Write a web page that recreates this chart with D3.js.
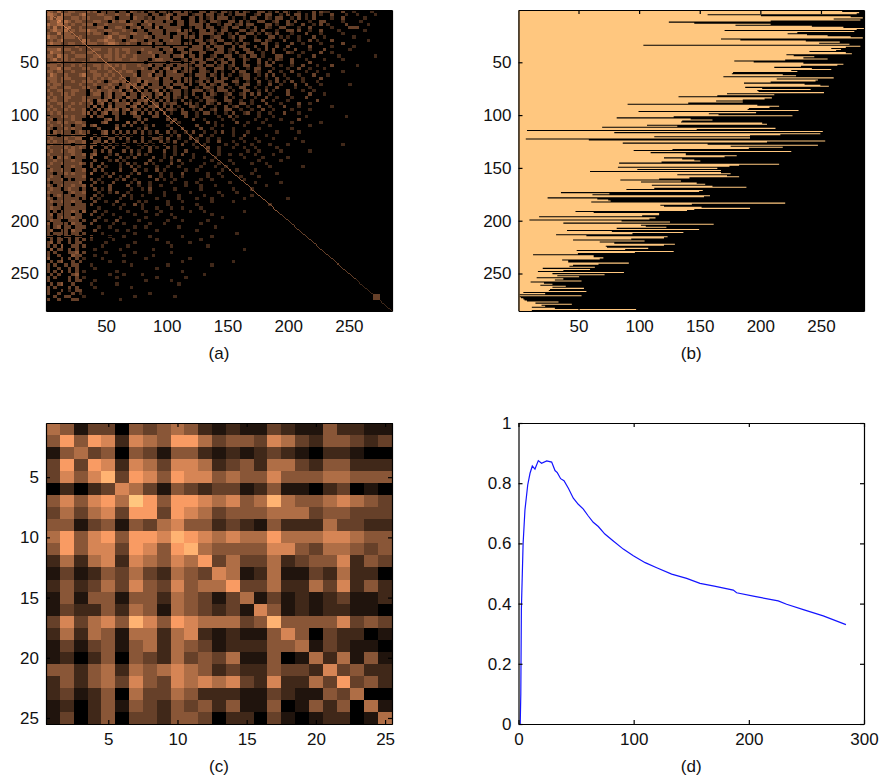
<!DOCTYPE html>
<html>
<head>
<meta charset="utf-8">
<script src="https://cdn.jsdelivr.net/npm/d3@7"></script>
<style>
  body { margin: 0; background: #fff; }
  text { font-family: "Liberation Sans", Arial, sans-serif; fill: #111; }
  .tick text { font-size: 17px; }
  .caption { font-size: 17px; text-anchor: middle; }
  .domain, .tick line { stroke: #000; stroke-width: 1.2; }
</style>
</head>
<body>
<div id="chart"></div>
<script>
//Panel (a) estimated brightness, one digit per block of 3 x 3 units
var coarseCells = [
"443533443334340333303304323033033203303200330320332030320033020303300200030322000300200002000",
"554354433453334433343340333303302430333023303302302033300230330020303302030200300020020000200",
"453553344344333344303330433230333403300330302303330200203300320330020302030000200300000200000",
"344645434433344330434403330433330330330330320332003303020033002300303000200330000200002000000",
"544554343344403343333344303340333300330333303002033023033000330200320030020302000030000020000",
"435344533433334403344303340330403333300203303300230330020300320033000200300000200003330000000",
"345445343445443344333433033033330333403300330320330003302303000200330300200300002000000200000",
"433534433334344303443334433303330300333020333302302030033020320300020003000200000200000000000",
"544344443433333345334430333430333303303330300233002303300200033020200200030020000000200000000",
"343453333354334454433034433033303343300203302303300203000330320003000200302000300000000020000",
"454433443344443345543343303340330333303300330320033020320003300200030020000200000300000000000",
"333333334333333333333333333330333303333033303033300303300300300300300000300000200000200000000",
"444534433433344334343443334333303340330333302303302300330020303002003000200030000002000000000",
"354433343334433334343343303343330330033300330033302030033002003000320020000300200000000000000",
"443544334443344344343433433334033303340330300230033002303302000330000200030000002000000000200",
"345344343333443334344334433303443330023033303302303300320030020320030002000020000200000000000",
"333433333343333333333333333033333033303330330030330300300030303000030000300000000000000000000",
"444343343433344344343433343340330330333203303302302300330020330020020030002000300000020000000",
"344534433344334343433433334303303403303320330033302030020330002000200300200020000000000000000",
"443443343333443334334344303334030334023300332030200303300320030020030002002000000200000000000",
"354334333453344343433333403340330333330203330320302002330020303002000200030002000000000000000",
"444344433334343434334303343333403303303300332030330020330200200300200020000300000000000000000",
"344343343344434303443403340433303330303302303033300330020030020302030020002000000000000000000",
"434433333433343334330343403403303303330300330320330020330020030020003003000200000002000000000",
"344334433344330343403340334033330340033002033203302003300200200300002000200000000000000000000",
"433443344330434334334034030303403023302033302303330200330020302000300020020000000000000000000",
"343344343330344034033403303330340303302030030320023002303030020000300000300020000000000000000",
"434334433343333034033043304030303303203002033200030200300200300200020003000000000000000000000",
"344334333344304340340303033403030302030200203320033002002003002000200000003000000000000000000",
"433443343433403403033340340303303233003302003203002003302000300020000300200000000000000000000",
"343343433333040304033303403033403030200332030020030230020030020003000200000000200000000000000",
"434334343340304034340340330303030332030020300230033002002003002000020000200000000000000000000",
"343433333344030340330303403030303020033002033020020300230020020003000200000000000000000000000",
"433344343330403300030000330003300200003002000002003020000020002000000002000000000020000000000",
"340333343300000034030000030300000303000030020000200200000200200020000300000000000000000000000",
"433434334430000340000040303000000030200000003020000030020002000000020000000200000000000000000",
"343343303340340000030303000203000200000003000020200000200000020000000000200000000000000000000",
"430334343300003000040000020300000030030000300200000200000020000000020000000000000000000000000",
"304343303433000340303030303020300302002030020020300200020000000200000200000000000000000000000",
"433033343340030340030302003020030020300200300200000200300000200000000000000000000000000000000",
"343334334400403003303030003003320300200302002002000002000200002000002000000000000000000000000",
"434333443340033040300020303020030203002003002003000200200020000000000020000000000000000000000",
"343343303340340303020300020302003002030020020000020020002000020000200000000000000200000000000",
"433334343430400030300020002030200302000002003002000200200200000200000000000000000000000000000",
"343343443300030303000303020030003002003000002002000000020020000020000000200000000000000000000",
"433333343340340002030002030200002002030020000002002002000200002000000000000000000000000000000",
"340434303330400030003020300003002030000020020020000000200002000000200000000000000000000000000",
"334333343300030002030200000030020020300200000200002000000020000020000000000000000000000000000",
"343343333430300300002030200302000030020000020002000200002000200000000000000000000000000000000",
"433303343300303020002003020000200200200000200020020000000000020000000020000000000000000000000",
"343343303340030300003000300200302000002002000000200020000200000000000000000000000000000000000",
"330334343330400020300002030000020020030000002002000000002000000200000000000000000000000000000",
"343303333340000203002030000030020020020000002000200002000020000000000000000000000000000000000",
"433340303330302000020300200000302002000000200200000000200000000000000000000000000000000000000",
"303333333400030200300002030020000020002002000000002000000200000020000000000000000000000000000",
"430343343340300003000030020020020000002000200020000000000000200000000000000000000000000000000",
"343303433030030203000002002030000002000000200000000200002000000000000000000000000000000000000",
"433330343340002002030020000020002000000200000002000020000000000000000000000000000000000000000",
"303433303330030200000302002000002000200000020000200000002000000000000000000000000000000000000",
"430333333030302000002002000000200000200002000200000000200000000000200000000000000000000000000",
"343343343300030020030000020200000200020000000200000200000000000000000000000000000000000000000",
"330333303330300000200200302000000200000002000000000000000000020000000000000000000000000000000",
"343303333330002000002000002000200020020000200000000000000000000000000000000000000000000000000",
"303033343040030020000020000200020000000200020000000000200000000000000000000000000000000000000",
"340333303300300200200000200000200020000000000200000000000000000000000000000000000000000000000",
"330343343300002000002000000200000002000000000000200000000000000000000000000000000000000000000",
"343300333030030020030000020000000200020000002000000000000000000000000000000000000000000000000",
"403333043300300000200200000020002000000000200000000000000000000000000000000000000000000000000",
"303403303330002002000000200200000000200000000020000000000000000000000000000000000000000000000",
"340033043300030000020020000000200000000002000000000000000000000000000000000000000000000000000",
"303333033030000200000000200000000000000000000000000020000000000000000000000000000000000000000",
"330303303300300002000200000020000000020000000200000000000000000000000000000000000000000000000",
"030330303030200000200000000000200000000000200000000000000000000000000000000000000000000000000",
"340300303300000020000000200000000200000200000000000000000000000000000000000000000000000000000",
"303040033030000200000020000000000020000000002000000000000000000000000000000000000000000000000",
"040330303000020000002000000002000000000000000000000000200000000000000000000000000000000000000",
"303000334030000020000000200000000020000000000000000000000000000000000000000000000000000000000",
"300300043300020000000200000002000000000000000000000000000000000000000000000000000000000000000",
"400030303020000200000000000200000000000200000000000000000000000000000000000000000000000000000",
"030340030300000002000200000000000000020000000000000200000000000000000000000000000000000000000",
"303003033000200000000002000000000200000000000200000000000000000000000000000000000000000000000",
"300300303000020000000000000000200000000000000000000000000000000000000000000000000000000000000",
"303040303020000000020000000000000000020000000000000000000000000000000000000000000000000000000",
"030300034000000002000200002000000000000000020000000000000000000000000000000000000000000000000",
"303000303020000000020000000000200000002000000000000000000000000000000000000000000000000000000",
"300000303300020000000000000200000020000000000000000000000000000000000000000000000000000000000",
"030340030000200000020000000000000000200000000000000000000000000000000000000000000000000000000",
"303000303000020000000002000000000000000000000000000000000000000000000000000000000000000000000",
"300030203300000000000000000000000000000000000000000000000000000000000000000000000000000000000",
"300300030200000200000000000020000000000000000000000000000000000000000000000000000000000000000",
"003003300020000000000000200000000002000000000000000000000000000000000000000000000000000000000",
"300300033000000000002000000000000000000000000000000000000000000000000000000000000000000000000"
];

//Panel (a) main diagonal, one digit per block of 3 units
var diagonalCells = "55555655555555555555555555455555555545445454444444444444444444443333333333333333333332222222222";

//Panel (a) darker square near the end of the diagonal
var blockRange = [270, 275];
var blockLevel = 3;

//Panel (a) thin black lines, row or column number and where they stop
var darkRowAt = [34, 50, 119, 128, 215];
var darkRowEnd = [120, 120, 100, 110, 60];
var darkColAt = [15, 34, 118];
var darkColEnd = [285, 220, 200];

//Panel (b) last bright column of each row, top to bottom
var rowEnds = [
  280, 267, 281, 279, 156, 200, 274, 284, 260, 282, 208, 124, 145, 208, 179, 242, 268, 285, 279, 170,
  277, 230, 222, 238, 255, 274, 284, 167, 183, 237, 265, 248, 273, 103, 282, 270, 258, 266, 262, 240,
  270, 275, 221, 227, 244, 235, 255, 220, 178, 194, 235, 268, 263, 233, 211, 242, 258, 225, 230, 177,
  176, 218, 229, 169, 260, 213, 247, 245, 208, 186, 236, 249, 256, 187, 201, 241, 197, 198, 252, 172,
  211, 164, 132, 209, 203, 185, 163, 185, 140, 90, 197, 215, 207, 190, 189, 231, 99, 196, 157, 165,
  226, 128, 81, 142, 160, 135, 134, 201, 205, 106, 131, 69, 212, 147, 7, 251, 79, 249, 216, 191,
  112, 191, 6, 58, 253, 205, 86, 156, 247, 175, 218, 190, 127, 95, 225, 109, 138, 138, 180, 170,
  120, 135, 145,
  150, 118, 83, 215, 182, 174, 82, 164, 98, 167, 59, 167, 175, 131, 172, 182, 141, 116, 84, 134,
  101, 147, 154, 110, 160, 188, 112, 89, 152, 149, 35, 75, 61, 158, 153, 24, 65, 74, 76, 60,
  220, 143, 117, 120, 151, 191, 145, 139, 47, 62, 116, 116, 102, 17, 113, 108, 9, 85, 125, 37,
  161, 101, 105, 122, 81, 149, 40, 77, 136, 94, 31, 56, 123, 120, 93, 45, 104, 67, 79, 129,
  120, 72, 73, 107, 88, 48, 128, 96, 49, 12, 62, 62, 70, 67, 36, 41, 41, 91, 66, 45,
  42, 63, 20, 59, 37, 16, 87, 28, 71, 32, 50, 15, 37, 30, 52, 10, 21, 28, 18, 39,
  28, 54, 26, 25, 56, 4, 22, 1, 52, 1, 2, 4, 5, 7, 33, 14, 44, 19, 22, 11,
  30, 97, 11
];

//Panel (c) matrix levels
var zoomCells = [
  [5,4,1,3,3,0,4,3,4,5,4,2,1,2,1,1,3,2,1,1,4,2,2,1,1],
  [4,7,4,7,6,2,6,5,4,7,7,5,3,4,4,3,6,5,3,2,4,4,3,2,3],
  [1,4,5,3,4,0,4,3,1,4,4,2,1,2,1,2,3,2,1,0,2,2,1,0,0],
  [3,7,3,7,6,2,6,5,3,6,6,5,2,3,4,2,5,5,3,2,4,4,2,2,2],
  [3,6,4,6,8,3,7,6,4,7,6,6,4,5,4,4,6,4,4,4,5,5,4,4,4],
  [0,2,0,2,3,6,5,3,1,4,3,2,3,3,1,2,4,1,1,0,2,3,0,1,0],
  [4,6,4,6,7,5,9,7,4,7,7,6,5,6,4,5,8,5,4,4,5,6,5,4,3],
  [3,5,3,5,6,3,7,7,3,7,6,5,3,4,4,4,5,5,5,3,4,4,3,3,3],
  [4,4,1,3,4,1,4,3,5,6,4,4,2,3,2,1,4,2,2,2,5,3,3,2,2],
  [5,7,4,6,7,4,7,7,6,8,7,6,5,6,5,5,7,5,5,5,6,6,5,4,4],
  [4,7,4,6,6,3,7,6,4,7,8,5,4,4,4,4,6,6,4,3,5,5,4,3,4],
  [2,5,2,5,6,2,6,5,4,6,5,7,3,5,3,3,5,2,3,4,4,6,2,4,3],
  [1,3,1,2,4,3,5,3,2,5,4,3,6,5,1,2,5,1,1,3,2,5,2,2,0],
  [2,4,2,3,5,3,6,4,3,6,4,5,5,7,3,3,5,2,2,5,3,6,2,4,2],
  [1,4,1,4,4,1,4,4,2,5,4,3,1,3,5,1,3,1,2,1,2,3,1,1,2],
  [1,3,2,2,4,2,5,4,1,5,4,3,2,3,1,6,4,1,2,1,2,2,1,1,0],
  [3,6,3,5,6,4,8,6,4,7,6,5,5,5,3,4,8,4,4,4,4,6,3,4,3],
  [2,5,2,5,4,1,5,5,2,5,6,2,1,2,1,1,4,6,4,0,3,2,2,0,1],
  [1,3,1,3,4,1,4,5,2,5,4,3,1,2,2,2,4,4,5,1,3,2,1,1,0],
  [1,2,0,2,4,0,4,3,2,5,3,4,3,5,1,1,4,0,1,5,2,5,1,4,1],
  [4,4,2,4,5,2,5,4,5,6,5,4,2,3,2,2,4,3,3,2,6,3,4,2,2],
  [2,4,2,4,5,3,6,4,3,6,5,6,5,6,3,2,6,2,2,5,3,7,3,4,2],
  [2,3,1,2,4,0,5,3,3,5,4,2,2,2,1,1,3,2,1,1,4,3,5,0,0],
  [1,2,0,2,4,1,4,3,2,4,3,4,2,4,1,1,4,0,1,4,2,4,0,5,1],
  [1,3,0,2,4,0,3,3,2,4,4,3,0,2,2,0,3,1,0,1,2,2,0,1,5]
];

//Panel (d) curve
var curveX = [1.5, 2, 2.5, 4, 5.6, 8, 10, 12, 14.3, 17.2, 20, 24.5, 28.8, 31.7, 33.7, 36.6, 39.5, 43.3, 47.6, 51.9,
  56.3, 60.6, 64.9, 69.3, 75, 82.3, 91, 99.7, 110, 120, 133, 146, 157.6, 170, 186.5, 189.4, 205, 225.5, 232.8, 248, 264.6, 284.3];
var curveY = [0, 0.1, 0.38, 0.6, 0.711, 0.794, 0.833, 0.857, 0.847, 0.875, 0.866, 0.874, 0.87, 0.842, 0.835, 0.815, 0.808, 0.783, 0.75, 0.73,
  0.714, 0.691, 0.67, 0.656, 0.631, 0.608, 0.581, 0.559, 0.536, 0.519, 0.498, 0.484, 0.467, 0.458, 0.445, 0.436, 0.424, 0.409, 0.398, 0.379, 0.359, 0.33];

//Tick labels
var matrixTicks = [50, 100, 150, 200, 250];
var zoomTicks = [5, 10, 15, 20, 25];
var curveXTicks = [0, 100, 200, 300];
var curveYTicks = [0, 0.2, 0.4, 0.6, 0.8, 1];

//Position of each level on the copper colormap
var levelValues = [0, 0.1, 0.2, 0.32, 0.43, 0.55, 0.67, 0.78, 0.9, 1];

function copper(level) {
  var v = levelValues[level];
  return d3.rgb(Math.min(1, 1.25 * v) * 255, 0.7812 * v * 255, 0.4975 * v * 255).formatHex();
}

//Creating SVG Container
var svgWidth = 880;
var svgHeight = 778;

var svg = d3.select("#chart")
  .append("svg")
  .attr("width", svgWidth)
  .attr("height", svgHeight)
  .style("display", "block");

var leftCol = { x0: 46, x1: 392 };
var rightCol = { x0: 518.5, x1: 864 };
var topRow = { y0: 10, y1: 311 };
var bottomRow = { y0: 423, y1: 724 };

//Drawing the box with inward ticks on all four sides
function drawFrame(col, row, xScale, yScale, xTicks, yTicks, caption) {
  svg.append("g").attr("transform", `translate(0, ${row.y1})`)
    .call(d3.axisBottom(xScale).tickValues(xTicks).tickFormat(d => d).tickSizeInner(-4).tickSizeOuter(0).tickPadding(9));
  svg.append("g").attr("transform", `translate(${col.x0}, 0)`)
    .call(d3.axisLeft(yScale).tickValues(yTicks).tickFormat(d => d).tickSizeInner(-4).tickSizeOuter(0).tickPadding(7));
  svg.append("g").attr("transform", `translate(0, ${row.y0})`)
    .call(d3.axisTop(xScale).tickValues(xTicks).tickFormat("").tickSizeInner(-4).tickSizeOuter(0));
  svg.append("g").attr("transform", `translate(${col.x1}, 0)`)
    .call(d3.axisRight(yScale).tickValues(yTicks).tickFormat("").tickSizeInner(-4).tickSizeOuter(0));

  svg.append("text")
    .attr("class", "caption")
    .attr("x", (col.x0 + col.x1) / 2)
    .attr("y", row.y1 + 48)
    .text(caption);
}

// Panel (a)
var ax = d3.scaleLinear().domain([0.5, 285.5]).range([leftCol.x0, leftCol.x1]);
var ay = d3.scaleLinear().domain([0.5, 285.5]).range([topRow.y0, topRow.y1]);

var aCells = [];
coarseCells.forEach(function(row, r) {
  row.split("").forEach(function(c, k) {
    aCells.push({ r: r, k: k, level: +c });
  });
});

var aGroup = svg.append("g").attr("shape-rendering", "crispEdges");

aGroup.append("rect")
  .attr("x", ax(0.5)).attr("y", ay(0.5))
  .attr("width", ax(285.5) - ax(0.5)).attr("height", ay(285.5) - ay(0.5))
  .attr("fill", "#000");

aGroup.selectAll("rect.cell")
  .data(aCells.filter(d => d.level > 0))
  .enter()
  .append("rect")
  .attr("class", "cell")
  .attr("x", d => ax(d.k * 3 + 0.5))
  .attr("y", d => ay(d.r * 3 + 0.5))
  .attr("width", d => ax(Math.min(d.k * 3 + 3.5, 285.5)) - ax(d.k * 3 + 0.5))
  .attr("height", d => ay(Math.min(d.r * 3 + 3.5, 285.5)) - ay(d.r * 3 + 0.5))
  .attr("fill", d => copper(d.level));

// thin black rows and columns
aGroup.selectAll("rect.darkrow")
  .data(darkRowAt)
  .enter()
  .append("rect")
  .attr("class", "darkrow")
  .attr("x", ax(0.5))
  .attr("y", d => ay(d - 0.5))
  .attr("width", (d, i) => ax(darkRowEnd[i]) - ax(0.5))
  .attr("height", 1.2)
  .attr("fill", "#000");

aGroup.selectAll("rect.darkcol")
  .data(darkColAt)
  .enter()
  .append("rect")
  .attr("class", "darkcol")
  .attr("x", d => ax(d - 0.5))
  .attr("y", ay(0.5))
  .attr("width", 1.2)
  .attr("height", (d, i) => ay(darkColEnd[i]) - ay(0.5))
  .attr("fill", "#000");

var diagonal = [];
diagonalCells.split("").forEach(function(c, k) {
  d3.range(3).forEach(function(n) {
    if (k * 3 + n < 285) diagonal.push({ i: k * 3 + n + 1, level: +c });
  });
});

aGroup.selectAll("rect.diag")
  .data(diagonal)
  .enter()
  .append("rect")
  .attr("class", "diag")
  .attr("x", d => ax(d.i - 0.5))
  .attr("y", d => ay(d.i - 0.5))
  .attr("width", ax(2) - ax(1))
  .attr("height", ay(2) - ay(1))
  .attr("fill", d => copper(d.level));

aGroup.append("rect")
  .attr("x", ax(blockRange[0] - 0.5))
  .attr("y", ay(blockRange[0] - 0.5))
  .attr("width", ax(blockRange[1] + 0.5) - ax(blockRange[0] - 0.5))
  .attr("height", ay(blockRange[1] + 0.5) - ay(blockRange[0] - 0.5))
  .attr("fill", copper(blockLevel));

drawFrame(leftCol, topRow, ax, ay, matrixTicks, matrixTicks, "(a)");

// Panel (b)
var bx = d3.scaleLinear().domain([0.5, 285.5]).range([rightCol.x0, rightCol.x1]);
var by = d3.scaleLinear().domain([0.5, 285.5]).range([topRow.y0, topRow.y1]);
var bRows = d3.scaleBand().domain(d3.range(rowEnds.length)).range([topRow.y0, topRow.y1]);

svg.append("rect")
  .attr("x", bx(0.5)).attr("y", by(0.5))
  .attr("width", bx(285.5) - bx(0.5)).attr("height", by(285.5) - by(0.5))
  .attr("fill", "#000");

//One outline for all rows, so no seams show between them
var bPath = d3.path();
bPath.moveTo(bx(0.5), topRow.y0);
rowEnds.forEach(function(d, i) {
  bPath.lineTo(bx(d + 0.5), bRows(i));
  bPath.lineTo(bx(d + 0.5), bRows(i) + bRows.bandwidth());
});
bPath.lineTo(bx(0.5), topRow.y1);
bPath.closePath();

svg.append("path")
  .attr("d", bPath.toString())
  .attr("fill", copper(9));

drawFrame(rightCol, topRow, bx, by, matrixTicks, matrixTicks, "(b)");

// Panel (c)
var cx = d3.scaleBand().domain(d3.range(1, 26)).range([leftCol.x0, leftCol.x1]);
var cy = d3.scaleBand().domain(d3.range(1, 26)).range([bottomRow.y0, bottomRow.y1]);
var cxTicks = d3.scaleLinear().domain([0.5, 25.5]).range([leftCol.x0, leftCol.x1]);
var cyTicks = d3.scaleLinear().domain([0.5, 25.5]).range([bottomRow.y0, bottomRow.y1]);

svg.append("g").attr("shape-rendering", "crispEdges").selectAll("g")
  .data(zoomCells)
  .enter()
  .append("g")
  .each(function(row, r) {
    d3.select(this).selectAll("rect")
      .data(row)
      .enter()
      .append("rect")
      .attr("x", (d, k) => cx(k + 1))
      .attr("y", cy(r + 1))
      .attr("width", cx.bandwidth() + 0.5)
      .attr("height", cy.bandwidth() + 0.5)
      .attr("fill", d => copper(d));
  });

drawFrame(leftCol, bottomRow, cxTicks, cyTicks, zoomTicks, zoomTicks, "(c)");

// Panel (d)
var dx = d3.scaleLinear().domain([0, 300]).range([rightCol.x0, rightCol.x1]);
var dy = d3.scaleLinear().domain([0, 1]).range([bottomRow.y1, bottomRow.y0]);

var curveLine = d3.line()
  .x(d => dx(d[0]))
  .y(d => dy(d[1]));

svg.append("path")
  .datum(d3.zip(curveX, curveY))
  .attr("d", curveLine)
  .attr("fill", "none")
  .attr("stroke", "#1414ff")
  .attr("stroke-width", 1.2);

drawFrame(rightCol, bottomRow, dx, dy, curveXTicks, curveYTicks, "(d)");
</script>
</body>
</html>
